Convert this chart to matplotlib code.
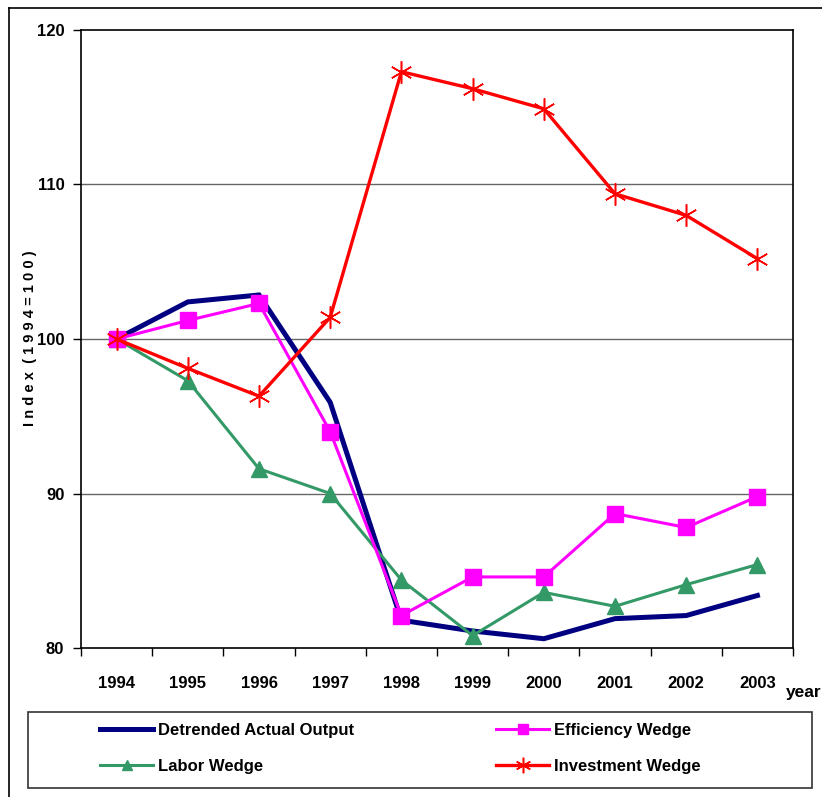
import numpy as np
import matplotlib
matplotlib.use("Agg")
import matplotlib.pyplot as plt
from matplotlib.lines import Line2D
from matplotlib.patches import Rectangle

plt.rcParams['font.family'] = ['Liberation Sans Narrow', 'Liberation Sans', 'DejaVu Sans']
plt.rcParams['font.weight'] = 'bold'

years = ['1994', '1995', '1996', '1997', '1998', '1999', '2000', '2001', '2002', '2003']
detrended = [100, 102.4, 102.85, 95.9, 81.8, 81.1, 80.6, 81.9, 82.1, 83.4]
efficiency = [100, 101.2, 102.3, 94.0, 82.1, 84.6, 84.6, 88.7, 87.8, 89.8]
labor = [100, 97.3, 91.6, 90.0, 84.4, 80.8, 83.6, 82.7, 84.1, 85.4]
investment = [100, 98.1, 96.3, 101.4, 117.3, 116.2, 114.9, 109.4, 108.0, 105.2]
yticks = [80, 90, 100, 110, 120]

fig = plt.figure(figsize=(8.22, 7.97), dpi=100)
ax = fig.add_axes([81/822, 1-648/797, (793-81)/822, (648-30)/797])

x = np.arange(len(years))
ax.plot(x, detrended, color='#000080', lw=3.6, solid_joinstyle='miter', zorder=3,
        label='Detrended Actual Output')
ax.plot(x, labor, color='#339966', lw=2.2, marker='^', ms=11, zorder=4, label='Labor Wedge')
ax.plot(x, efficiency, color='#FF00FF', lw=2.2, marker='s', ms=11, zorder=5, label='Efficiency Wedge')
ax.plot(x, investment, color='#FF0000', lw=2.4, marker=(6, 2, 0), ms=16, mew=1.1, zorder=6,
        label='Investment Wedge')

ax.set_xlim(-0.5, len(years)-0.5)
ax.set_ylim(80, 120)
ax.set_yticks(yticks)
ax.set_yticklabels([str(v) for v in yticks], fontsize=12, fontweight='bold')
ax.set_xticks(np.arange(-0.5, len(years), 1.0))
ax.set_xticklabels([])
ax.set_xticks(x, minor=True)
ax.set_xticklabels(years, minor=True, fontsize=12, fontweight='bold')
ax.tick_params(axis='x', which='minor', length=0, pad=20)
ax.tick_params(axis='x', which='major', direction='out', length=6, width=1)
ax.tick_params(axis='y', direction='out', length=6, width=1, pad=6)
for y in [90, 100, 110]:
    ax.axhline(y, color='#666666', lw=1, zorder=1)
for s in ax.spines.values():
    s.set_color('black')
    s.set_linewidth(1.2)

fig.text(30/822, 1-338/797, 'I n d e x  ( 1 9 9 4 = 1 0 0 )', fontsize=10.5, fontweight='bold',
         rotation=90, ha='center', va='center')
fig.text(786/822, 1-693/797, 'year', fontsize=12.5, fontweight='bold', va='center', ha='left')

# outer border
fig.add_artist(Line2D([9/822, 9/822], [0, 1-8/797], color='black', lw=1.2, transform=fig.transFigure))
fig.add_artist(Line2D([9/822, 1], [1-8/797, 1-8/797], color='black', lw=1.2, transform=fig.transFigure))

# legend box
fig.add_artist(Rectangle((28/822, 1-788/797), (812-28)/822, (788-712)/797, transform=fig.transFigure,
                         facecolor='white', edgecolor='#333333', lw=1.2, zorder=0))
h, l = ax.get_legend_handles_labels()
leg = fig.legend(h, l, ncol=2, loc='upper left', bbox_to_anchor=(100/822, 1-723/797),
                 frameon=False, prop={'size': 12, 'weight': 'bold'}, handlelength=3.2,
                 handletextpad=0.3, borderaxespad=0, borderpad=0, labelspacing=1.25,
                 columnspacing=8.5, markerscale=0.7)

fig.savefig('out.png', dpi=100)
